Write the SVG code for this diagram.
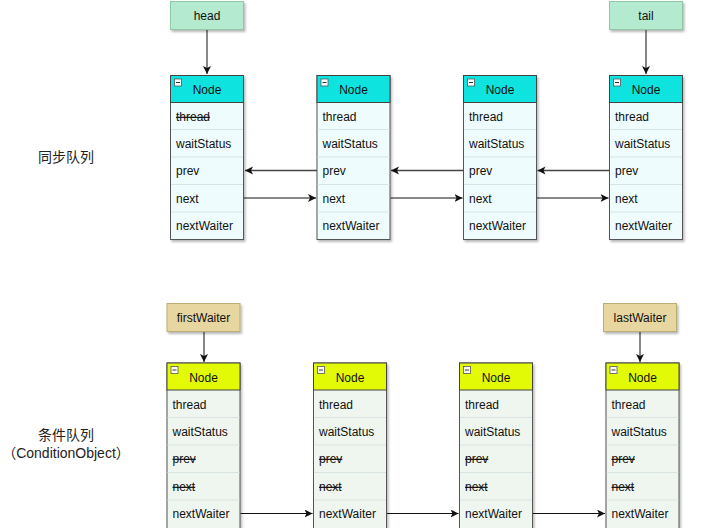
<svg xmlns="http://www.w3.org/2000/svg" width="702" height="528" viewBox="0 0 702 528">
<style>
text{font-family:"Liberation Sans",Arial,sans-serif;font-size:12px;fill:#111}
.lbl{font-family:"Liberation Sans","Noto Sans CJK SC",sans-serif;font-size:14px;fill:#222}
.hdrA{fill:#0ee3df;stroke:#444;stroke-width:1}
.hdrB{fill:#e2fa05;stroke:#444;stroke-width:1}
.bodyA{fill:#eefcfd;stroke:#555;stroke-width:1}
.bodyB{fill:#eff6ef;stroke:#555;stroke-width:1}
.sep{stroke:#d8e4e4;stroke-width:1}
.ico{fill:#fff;stroke:#555;stroke-width:0.8}
.green{fill:#b3ead0;stroke:#8fc8a4;stroke-width:1}
.tan{fill:#e8d6a0;stroke:#b9ad78;stroke-width:1}
.ctr{text-anchor:middle}
.st{text-decoration:line-through}
.conn{fill:none;stroke:#111;stroke-width:1}
.conn2{fill:none;stroke:#444;stroke-width:1.3}
</style>
<defs>
<filter id="sh" x="-20%" y="-20%" width="150%" height="150%">
<feDropShadow dx="1.5" dy="2" stdDeviation="1.3" flood-color="#000" flood-opacity="0.28"/>
</filter>
<marker id="ah" markerWidth="10" markerHeight="10" refX="8" refY="4" orient="auto" markerUnits="userSpaceOnUse">
<path d="M0,0 L8,4 L0,8 L2,4 Z" fill="#111"/>
</marker>
<symbol id="icon" overflow="visible"><rect class="ico" x="0" y="0" width="7" height="7"/><line x1="1.5" y1="3.5" x2="5.5" y2="3.5" stroke="#333" stroke-width="1"/></symbol>
</defs>
<rect width="702" height="528" fill="#fff"/>

<text class="lbl ctr" x="66" y="162">同步队列</text>
<text class="lbl ctr" x="66" y="440">条件队列</text>
<text class="lbl ctr" x="66" y="458">（ConditionObject）</text>

<g id="head"><rect class="green" x="170.5" y="1.5" width="73" height="28" filter="url(#sh)"/><text class="ctr" x="207" y="20">head</text></g>
<g id="tail"><rect class="green" x="609.5" y="1.5" width="73" height="28" filter="url(#sh)"/><text class="ctr" x="646" y="20">tail</text></g>
<g id="firstWaiter"><rect class="tan" x="167" y="303.5" width="73" height="28" filter="url(#sh)"/><text class="ctr" x="203.5" y="322">firstWaiter</text></g>
<g id="lastWaiter"><rect class="tan" x="603.5" y="303.5" width="73" height="28" filter="url(#sh)"/><text class="ctr" x="640" y="322">lastWaiter</text></g>

<g id="sync1">
<rect class="bodyA" x="170.5" y="75.5" width="73" height="164" filter="url(#sh)"/>
<rect class="hdrA" x="170.5" y="75.5" width="73" height="27"/>
<use href="#icon" x="174.5" y="79"/>
<text class="ctr" x="207" y="94">Node</text>
<line class="sep" x1="171" y1="129.5" x2="243" y2="129.5"/><line class="sep" x1="171" y1="157" x2="243" y2="157"/><line class="sep" x1="171" y1="184.5" x2="243" y2="184.5"/><line class="sep" x1="171" y1="212" x2="243" y2="212"/>
<text class="st" x="176" y="121">thread</text><text x="176" y="148">waitStatus</text><text x="176" y="175">prev</text><text x="176" y="203">next</text><text x="176" y="230">nextWaiter</text>
</g>
<g id="sync2">
<rect class="bodyA" x="317" y="75.5" width="73" height="164" filter="url(#sh)"/>
<rect class="hdrA" x="317" y="75.5" width="73" height="27"/>
<use href="#icon" x="321" y="79"/>
<text class="ctr" x="353.5" y="94">Node</text>
<line class="sep" x1="317.5" y1="129.5" x2="389.5" y2="129.5"/><line class="sep" x1="317.5" y1="157" x2="389.5" y2="157"/><line class="sep" x1="317.5" y1="184.5" x2="389.5" y2="184.5"/><line class="sep" x1="317.5" y1="212" x2="389.5" y2="212"/>
<text x="322.5" y="121">thread</text><text x="322.5" y="148">waitStatus</text><text x="322.5" y="175">prev</text><text x="322.5" y="203">next</text><text x="322.5" y="230">nextWaiter</text>
</g>
<g id="sync3">
<rect class="bodyA" x="463.5" y="75.5" width="73" height="164" filter="url(#sh)"/>
<rect class="hdrA" x="463.5" y="75.5" width="73" height="27"/>
<use href="#icon" x="467.5" y="79"/>
<text class="ctr" x="500" y="94">Node</text>
<line class="sep" x1="464" y1="129.5" x2="536" y2="129.5"/><line class="sep" x1="464" y1="157" x2="536" y2="157"/><line class="sep" x1="464" y1="184.5" x2="536" y2="184.5"/><line class="sep" x1="464" y1="212" x2="536" y2="212"/>
<text x="469" y="121">thread</text><text x="469" y="148">waitStatus</text><text x="469" y="175">prev</text><text x="469" y="203">next</text><text x="469" y="230">nextWaiter</text>
</g>
<g id="sync4">
<rect class="bodyA" x="609.5" y="75.5" width="73" height="164" filter="url(#sh)"/>
<rect class="hdrA" x="609.5" y="75.5" width="73" height="27"/>
<use href="#icon" x="613.5" y="79"/>
<text class="ctr" x="646" y="94">Node</text>
<line class="sep" x1="610" y1="129.5" x2="682" y2="129.5"/><line class="sep" x1="610" y1="157" x2="682" y2="157"/><line class="sep" x1="610" y1="184.5" x2="682" y2="184.5"/><line class="sep" x1="610" y1="212" x2="682" y2="212"/>
<text x="615" y="121">thread</text><text x="615" y="148">waitStatus</text><text x="615" y="175">prev</text><text x="615" y="203">next</text><text x="615" y="230">nextWaiter</text>
</g>

<g id="cond1">
<rect class="bodyB" x="167" y="363" width="73" height="170" filter="url(#sh)"/>
<rect class="hdrB" x="167" y="363" width="73" height="27"/>
<use href="#icon" x="171" y="366.5"/>
<text class="ctr" x="203.5" y="382">Node</text>
<line class="sep" x1="167.5" y1="417.5" x2="239.5" y2="417.5"/><line class="sep" x1="167.5" y1="445" x2="239.5" y2="445"/><line class="sep" x1="167.5" y1="472.5" x2="239.5" y2="472.5"/><line class="sep" x1="167.5" y1="500" x2="239.5" y2="500"/>
<text x="172.5" y="409">thread</text><text x="172.5" y="436">waitStatus</text><text class="st" x="172.5" y="463">prev</text><text class="st" x="172.5" y="491">next</text><text x="172.5" y="518">nextWaiter</text>
</g>
<g id="cond2">
<rect class="bodyB" x="313.5" y="363" width="73" height="170" filter="url(#sh)"/>
<rect class="hdrB" x="313.5" y="363" width="73" height="27"/>
<use href="#icon" x="317.5" y="366.5"/>
<text class="ctr" x="350" y="382">Node</text>
<line class="sep" x1="314" y1="417.5" x2="386" y2="417.5"/><line class="sep" x1="314" y1="445" x2="386" y2="445"/><line class="sep" x1="314" y1="472.5" x2="386" y2="472.5"/><line class="sep" x1="314" y1="500" x2="386" y2="500"/>
<text x="319" y="409">thread</text><text x="319" y="436">waitStatus</text><text class="st" x="319" y="463">prev</text><text class="st" x="319" y="491">next</text><text x="319" y="518">nextWaiter</text>
</g>
<g id="cond3">
<rect class="bodyB" x="459.5" y="363" width="73" height="170" filter="url(#sh)"/>
<rect class="hdrB" x="459.5" y="363" width="73" height="27"/>
<use href="#icon" x="463.5" y="366.5"/>
<text class="ctr" x="496" y="382">Node</text>
<line class="sep" x1="460" y1="417.5" x2="532" y2="417.5"/><line class="sep" x1="460" y1="445" x2="532" y2="445"/><line class="sep" x1="460" y1="472.5" x2="532" y2="472.5"/><line class="sep" x1="460" y1="500" x2="532" y2="500"/>
<text x="465" y="409">thread</text><text x="465" y="436">waitStatus</text><text class="st" x="465" y="463">prev</text><text class="st" x="465" y="491">next</text><text x="465" y="518">nextWaiter</text>
</g>
<g id="cond4">
<rect class="bodyB" x="606" y="363" width="73" height="170" filter="url(#sh)"/>
<rect class="hdrB" x="606" y="363" width="73" height="27"/>
<use href="#icon" x="610" y="366.5"/>
<text class="ctr" x="642.5" y="382">Node</text>
<line class="sep" x1="606.5" y1="417.5" x2="678.5" y2="417.5"/><line class="sep" x1="606.5" y1="445" x2="678.5" y2="445"/><line class="sep" x1="606.5" y1="472.5" x2="678.5" y2="472.5"/><line class="sep" x1="606.5" y1="500" x2="678.5" y2="500"/>
<text x="611.5" y="409">thread</text><text x="611.5" y="436">waitStatus</text><text class="st" x="611.5" y="463">prev</text><text class="st" x="611.5" y="491">next</text><text x="611.5" y="518">nextWaiter</text>
</g>

<g id="connectors">
<line class="conn" x1="207" y1="30" x2="207" y2="74" marker-end="url(#ah)"/>
<line class="conn2" x1="646" y1="30" x2="646" y2="74" marker-end="url(#ah)"/>
<line class="conn" x1="204" y1="332" x2="204" y2="362" marker-end="url(#ah)"/>
<line class="conn" x1="640" y1="332" x2="640" y2="362" marker-end="url(#ah)"/>
<line class="conn2" x1="317" y1="170.5" x2="245" y2="170.5" marker-end="url(#ah)"/>
<line class="conn2" x1="463.5" y1="170.5" x2="391" y2="170.5" marker-end="url(#ah)"/>
<line class="conn2" x1="609.5" y1="170.5" x2="537.5" y2="170.5" marker-end="url(#ah)"/>
<line class="conn" x1="244" y1="198" x2="316" y2="198" marker-end="url(#ah)"/>
<line class="conn" x1="390.5" y1="198" x2="462.5" y2="198" marker-end="url(#ah)"/>
<line class="conn" x1="537" y1="198" x2="608.5" y2="198" marker-end="url(#ah)"/>
<line class="conn" x1="240.5" y1="513.5" x2="312.5" y2="513.5" marker-end="url(#ah)"/>
<line class="conn" x1="387" y1="513.5" x2="458.5" y2="513.5" marker-end="url(#ah)"/>
<line class="conn" x1="533" y1="513.5" x2="605" y2="513.5" marker-end="url(#ah)"/>
</g>
</svg>
